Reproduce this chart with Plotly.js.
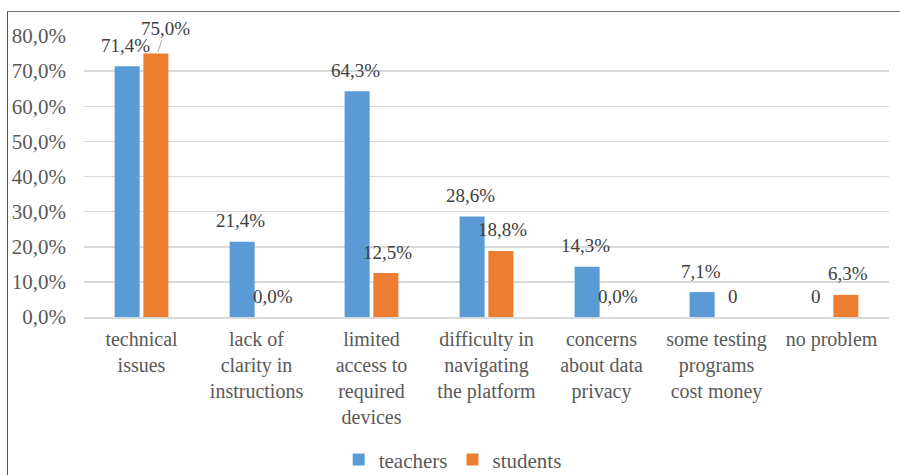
<!DOCTYPE html>
<html><head><meta charset="utf-8">
<script src="https://cdn.plot.ly/plotly-3.0.1.min.js"></script>
<style>html,body{margin:0;padding:0;background:#fff;}#wrap{position:relative;width:900px;height:475px;overflow:hidden;}
#frame{position:absolute;left:7px;top:11px;width:1000px;height:1000px;border-left:1.5px solid #555;border-top:1.5px solid #777;pointer-events:none;}</style>
</head><body>
<div id="wrap"><div id="chart" style="width:900px;height:475px;"></div><div id="frame"></div></div>
<script>
const categories = ["technical<br>issues","lack of<br>clarity in<br>instructions","limited<br>access to<br>required<br>devices","difficulty in<br>navigating<br>the platform","concerns<br>about data<br>privacy","some testing<br>programs<br>cost money","no problem"];
const teachers = [71.4, 21.4, 64.3, 28.6, 14.3, 7.1, 0];
const students = [75.0, 0, 12.5, 18.8, 0, 0, 6.3];
const teacherLabels = ["71,4%","21,4%","64,3%","28,6%","14,3%","7,1%","0"];
const studentLabels = ["75,0%","0,0%","12,5%","18,8%","0,0%","0","6,3%"];
const yTicks = [0,10,20,30,40,50,60,70,80];
const yTickText = yTicks.map(v => v.toFixed(1).replace(".", ",") + "%");

const blue = "#5B9BD5", orange = "#ED7D31";
const serif = "Liberation Serif";

const traces = [
  {type:"bar", name:"teachers", x:categories, y:teachers, marker:{color:blue}, hoverinfo:"none"},
  {type:"bar", name:"students", x:categories, y:students, marker:{color:orange}, hoverinfo:"none"}
];

const off = 16;
const lblFont = {family:serif,size:19,color:"#404040"};
const ann = [];
categories.forEach((c,i)=>{
  ann.push({x:c, y:teachers[i], xref:"x", yref:"y", text:teacherLabels[i], showarrow:false,
    xshift:-off, yanchor:"middle", yshift:21, font:lblFont});
  if (i===0) {
    ann.push({x:c, y:students[i], xref:"x", yref:"y", text:studentLabels[i], showarrow:true,
      arrowhead:0, arrowwidth:1, arrowcolor:"#a6a6a6", ax:8, ay:-25, standoff:2,
      xshift:off, font:lblFont});
  } else {
    ann.push({x:c, y:students[i], xref:"x", yref:"y", text:studentLabels[i], showarrow:false,
      xshift:off, yanchor:"middle", yshift:21, font:lblFont});
  }
});

const layout = {
  width:900, height:475,
  margin:{l:84, r:11, t:36, b:158, autoexpand:false},
  paper_bgcolor:"#fff", plot_bgcolor:"#fff",
  barmode:"group", bargap:0.5, bargroupgap:0.13,
  font:{family:serif, size:20, color:"#595959"},
  xaxis:{tickfont:{family:serif,size:20,color:"#595959"}, showgrid:false, ticks:"", showline:true, linecolor:"#d9d9d9", linewidth:1.5, ticklabelstandoff:3, automargin:false, fixedrange:true},
  yaxis:{range:[0,80], tickmode:"array", tickvals:yTicks, ticktext:yTickText, gridcolor:"#d9d9d9", gridwidth:1.5, zeroline:false, showline:false, ticks:"",
    tickfont:{family:serif,size:21,color:"#595959"}, ticklabelstandoff:17, automargin:false, fixedrange:true},
  legend:{orientation:"h", xref:"container", yref:"container", x:0.503, xanchor:"center", y:0.032, yanchor:"middle", font:{family:serif,size:21,color:"#595959"}, itemwidth:30, tracegroupgap:0},
  annotations:ann,
  showlegend:true
};
Plotly.newPlot("chart", traces, layout, {displayModeBar:false, staticPlot:true});
</script>
</body></html>
